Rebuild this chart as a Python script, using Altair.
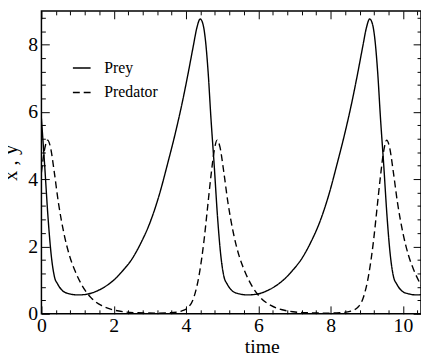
import altair as alt
import pandas as pd

# ---- data ----
time_prey = [0.00, 0.09, 0.18, 0.27, 0.36, 0.45, 0.59, 0.75, 1.00, 1.25, 1.50, 1.75, 2.00, 2.25, 2.50,
             2.75, 3.00, 3.25, 3.50, 3.70, 3.90, 4.05, 4.20, 4.30, 4.39,
             4.47, 4.54, 4.61, 4.69, 4.78, 4.87, 4.96, 5.05, 5.14, 5.28, 5.44, 5.69, 5.94, 6.19, 6.44,
             6.69, 6.94, 7.19, 7.44, 7.69, 7.94, 8.19, 8.39, 8.59, 8.74, 8.89, 8.99, 9.08,
             9.16, 9.23, 9.30, 9.38, 9.47, 9.56, 9.65, 9.74, 9.83, 9.97, 10.13, 10.38, 10.50]
prey = [5.8, 4.4, 2.9, 1.75, 1.1, 0.88, 0.68, 0.6, 0.56, 0.58, 0.66, 0.8, 1.0, 1.28, 1.62,
        2.1, 2.7, 3.5, 4.5, 5.35, 6.3, 7.1, 7.95, 8.5, 8.76,
        8.6, 8.1, 7.2, 5.8, 4.4, 2.9, 1.75, 1.1, 0.88, 0.68, 0.6, 0.56, 0.58, 0.66, 0.8,
        1.0, 1.28, 1.62, 2.1, 2.7, 3.5, 4.5, 5.35, 6.3, 7.1, 7.95, 8.5, 8.76,
        8.6, 8.1, 7.2, 5.8, 4.4, 2.9, 1.75, 1.1, 0.88, 0.68, 0.6, 0.56, 0.57]

time_pred = [0.00, 0.09, 0.17, 0.25, 0.35, 0.47, 0.62, 0.77, 0.92, 1.12, 1.37, 1.67, 1.97, 2.27,
             2.67, 3.17, 3.57, 3.87, 4.07, 4.22, 4.37, 4.50, 4.59, 4.69, 4.78, 4.86,
             4.94, 5.04, 5.16, 5.31, 5.46, 5.61, 5.81, 6.06, 6.36, 6.66, 6.96, 7.36, 7.86, 8.26,
             8.56, 8.76, 8.91, 9.06, 9.19, 9.28, 9.38, 9.47, 9.55,
             9.63, 9.73, 9.85, 10.00, 10.15, 10.30, 10.50]
predator = [4.2, 4.9, 5.16, 4.95, 4.25, 3.3, 2.4, 1.75, 1.3, 0.85, 0.48, 0.24, 0.12, 0.06,
            0.03, 0.02, 0.03, 0.08, 0.2, 0.5, 1.2, 2.2, 3.1, 4.1, 4.85, 5.16,
            4.95, 4.25, 3.3, 2.4, 1.75, 1.3, 0.85, 0.48, 0.24, 0.12, 0.06, 0.03, 0.02, 0.03,
            0.08, 0.2, 0.5, 1.2, 2.2, 3.1, 4.1, 4.85, 5.16,
            4.95, 4.25, 3.3, 2.4, 1.75, 1.3, 0.85]

series_names = ["Prey", "Predator"]

x_major = [0, 2, 4, 6, 8, 10]
x_minor = [0.4, 0.8, 1.2, 1.6, 2.4, 2.8, 3.2, 3.6, 4.4, 4.8, 5.2, 5.6, 6.4, 6.8, 7.2, 7.6,
           8.4, 8.8, 9.2, 9.6, 10.4]
y_major = [0, 2, 4, 6, 8]
y_minor = [0.4, 0.8, 1.2, 1.6, 2.4, 2.8, 3.2, 3.6, 4.4, 4.8, 5.2, 5.6, 6.4, 6.8, 7.2, 7.6,
           8.4, 8.8]

df = pd.concat([
    pd.DataFrame({"t": time_prey, "v": prey, "series": series_names[0]}),
    pd.DataFrame({"t": time_pred, "v": predator, "series": series_names[1]}),
], ignore_index=True)

W, H = 386, 308
FONT = "Liberation Serif"
xs = alt.Scale(domain=[0, 10.5], nice=False, zero=False)
ys = alt.Scale(domain=[0, 9], nice=False, zero=False)


def tick_axis(values, orient, offset, size):
    return alt.Axis(values=values, orient=orient, offset=offset, labels=False, domain=False,
                    grid=False, ticks=True, tickSize=size, tickColor="black", tickWidth=1,
                    title="")


lines = alt.Chart(df).mark_line(color="black", strokeWidth=1.4, interpolate="monotone",
                                clip=True).encode(
    x=alt.X("t:Q", scale=xs, axis=alt.Axis(
        values=x_major, orient="bottom", ticks=False, domain=False, grid=False,
        labelFont=FONT, labelFontSize=20, labelPadding=2, labelColor="black", labelFlush=False,
        title="time", titleFont=FONT, titleFontSize=20, titleFontWeight="normal",
        titleColor="black", titleX=224, titleY=39, titleAlign="center",
        titleBaseline="alphabetic")),
    y=alt.Y("v:Q", scale=ys, axis=alt.Axis(
        values=y_major, orient="left", ticks=False, domain=False, grid=False,
        labelFont=FONT, labelFontSize=20, labelPadding=4, labelColor="black", labelFlush=False,
        title="x , y", titleFont=FONT, titleFontSize=21, titleFontWeight="normal",
        titleColor="black", titleAngle=270, titleX=-25, titleY=154, titleAlign="center",
        titleBaseline="alphabetic")),
    strokeDash=alt.StrokeDash("series:N",
                              scale=alt.Scale(domain=series_names, range=[[1, 0], [7, 4]]),
                              legend=alt.Legend(
                                  title=None, orient="none", legendX=31, legendY=48,
                                  symbolType="stroke", symbolSize=324, symbolStrokeWidth=1.4,
                                  symbolStrokeColor="black", labelFont=FONT, labelFontSize=16,
                                  labelColor="black", labelOffset=13, rowPadding=7, padding=0)),
)

base = alt.Chart(df[df.series == "Prey"]).mark_line(strokeOpacity=0)

bottom_major = base.encode(
    x=alt.X("t:Q", scale=xs, axis=tick_axis(x_major, "top", -H, 8)),
    y=alt.Y("v:Q", scale=ys, axis=tick_axis(y_major, "right", -W, 8)),
)
bottom_minor = base.encode(
    x=alt.X("t:Q", scale=xs, axis=tick_axis(x_minor, "top", -H, 4)),
    y=alt.Y("v:Q", scale=ys, axis=tick_axis(y_minor, "right", -W, 4)),
)
top_major = base.encode(
    x=alt.X("t:Q", scale=xs, axis=tick_axis(x_major, "bottom", -H, 8)),
    y=alt.Y("v:Q", scale=ys, axis=tick_axis(y_major, "left", -W, 8)),
)
top_minor = base.encode(
    x=alt.X("t:Q", scale=xs, axis=tick_axis(x_minor, "bottom", -H, 4)),
    y=alt.Y("v:Q", scale=ys, axis=tick_axis(y_minor, "left", -W, 4)),
)

chart = alt.layer(lines, bottom_major, bottom_minor, top_major, top_minor).resolve_axis(
    x="independent", y="independent"
).properties(
    width=W, height=H,
    autosize=alt.AutoSizeParams(type="none"),
    padding={"left": 34, "top": 0, "right": 0, "bottom": 41},
).configure(
    background="white", font=FONT
).configure_view(
    stroke="black", strokeWidth=1.5
).configure_axis(
    labelFont=FONT, titleFont=FONT
).configure_legend(
    labelFont=FONT
)

chart.save("out.html", embed_options={"renderer": "svg", "actions": False})
